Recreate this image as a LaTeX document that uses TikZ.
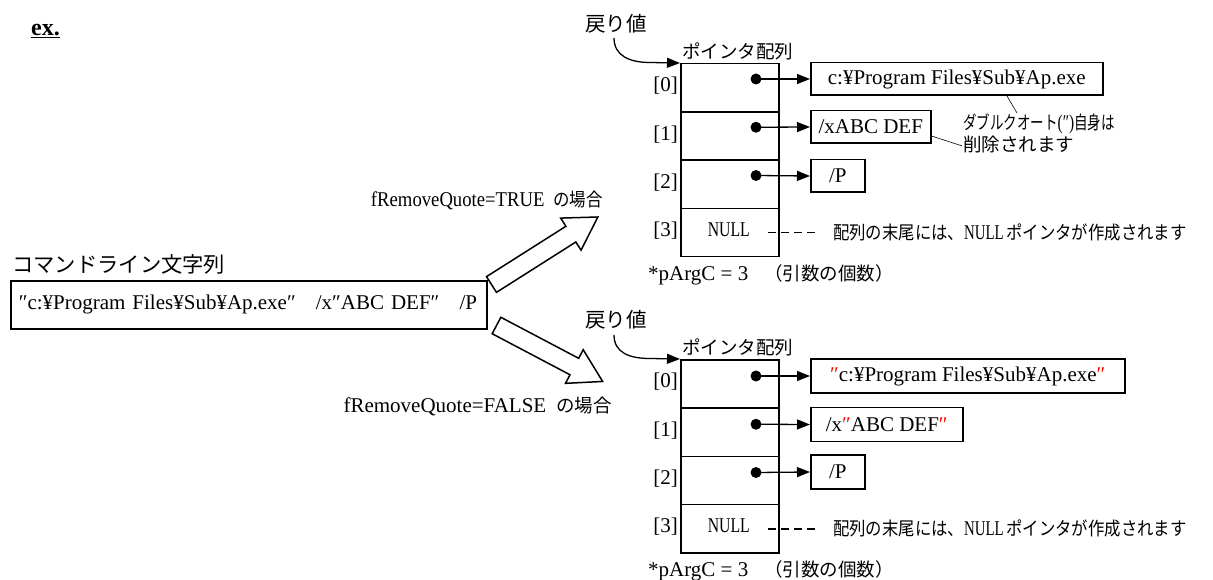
\documentclass[tikz,border=0pt]{standalone}
\usepackage{fontspec}
\setmainfont{Liberation Serif}
\newfontfamily\jp{Noto Sans CJK JP}
\usetikzlibrary{arrows.meta,calc}
\newcommand\J[1]{{\jp\fontsize{18.5}{22}\selectfont #1}}
\newcommand\JS[2]{{\jp\fontsize{#1}{22}\selectfont #2}}
\newcommand\HS[2]{\scalebox{#1}[1]{#2}}
\newcommand\RQ{\textcolor{red}{″}}
\begin{document}
\begin{tikzpicture}[x=1pt,y=-1pt,
  every node/.style={font=\fontsize{21}{24}\selectfont, inner sep=0pt, text=black},
  cell/.style={draw, line width=1.5pt, minimum width=98pt, minimum height=48.25pt, anchor=north west},
  sbox/.style={draw, line width=1.5pt, minimum height=32.5pt, anchor=west},
  ptr/.style={line width=1.3pt, -{Triangle[length=13pt,width=10pt]}},
  dot/.style={circle, fill=black, minimum size=11pt},
  fat/.style={draw, line width=1.5pt, fill=white, line join=miter},
  callout/.style={line width=0.6pt},
  nulldash/.style={line width=1.5pt, dash pattern=on 8pt off 5pt}]
\useasboundingbox[fill=white] (0,0) rectangle (1213,580);

% ex.
\node[anchor=west, font=\bfseries\fontsize{24}{26}\selectfont] (ex) at (31,31) {\underline{ex.}};

% command line
\node[anchor=west] (CL) at (12,264) {\JS{21.3}{コマンドライン文字列}};
\node[draw, line width=1.5pt, minimum height=48pt, anchor=north west, text width=460pt, inner xsep=8pt, align=left] (CMD) at (10,280)
  {″c:¥Program Files¥Sub¥Ap.exe″\hspace{20pt}/x″ABC DEF″\hspace{20pt}/P};

% fat arrows
\begin{scope}[shift={(491.5,284.5)}, rotate=32.4]
  \draw[fat] (0,-9.3) -- (94,-9.3) -- (94,-19) -- (126,0) -- (94,19) -- (94,9.3) -- (0,9.3) -- cycle;
\end{scope}
\begin{scope}[shift={(496.5,325.5)}, rotate=-27.8]
  \draw[fat] (0,-9.3) -- (88,-9.3) -- (88,-19) -- (120,0) -- (88,19) -- (88,9.3) -- (0,9.3) -- cycle;
\end{scope}
\node[anchor=east] (TT) at (603,200) {\HS{0.89}{fRemoveQuote=TRUE\hspace{10pt}\J{の場合}}};
\node[anchor=east] (TF) at (612,406) {fRemoveQuote=FALSE\hspace{10pt}\J{の場合}};

% arrays
\foreach \p/\y/\o in {A/63/16, B/359/17} {
  \foreach \i in {0,...,3} {
    \node[cell] (\p\i) at (680,{\y+48.25*\i}) {};
    \node[anchor=east] (\p L\i) at ($(\p\i.west)+(-2,-2)$) {[\i]};
  }
  \foreach \i in {0,1,2} {
    \node[dot] (\p D\i) at ($(\p\i.north west)+(76,\o)$) {};
  }
  \node (\p N) at ($(\p3.center)+(-1,-3)$) {\HS{0.75}{NULL}};
  \coordinate (\p S) at ($(\p3.north west)+(88,25)$);
  \coordinate (\p E) at ($(\p3.north west)+(137,25)$);
  \node[anchor=west] (\p Note) at ($(\p3.north west)+(153,25)$)
    {\HS{0.885}{\J{配列の末尾には、}\HS{0.8}{NULL}\hspace{3pt}\J{ポインタが作成されます}}};
  \draw[nulldash] (\p S) -- (\p E);
  \node[anchor=west] (\p C) at ($(\p3.south west)+(-32,17)$) {*pArgC = 3\hspace{16pt}\J{（引数の個数）}};
  \node[anchor=south west] (\p P) at ($(\p0.north west)+(2,-3)$) {\J{ポインタ配列}};
}
\node[anchor=west] (AR) at (585,24) {\JS{20.5}{戻り値}};
\node[anchor=west] (BR) at (585,320) {\JS{20.5}{戻り値}};
\draw[ptr] (614,38) .. controls (614,56) and (630,62.5) .. (650,62.5) -- (A0.north west);
\draw[ptr] (614,335) .. controls (614,353) and (630,358.5) .. (650,358.5) -- (B0.north west);

% target strings (TRUE)
\node[sbox, minimum width=292pt] (AT0) at (810,79) {c:¥Program Files¥Sub¥Ap.exe};
\node[sbox, minimum width=120pt] (AT1) at (810,127) {/xABC DEF};
\node[sbox, minimum width=54pt] (AT2) at (810,176) {/P};
% target strings (FALSE)
\node[sbox, minimum width=314pt, minimum height=34pt] (BT0) at (810,376) {\RQ c:¥Program Files¥Sub¥Ap.exe\RQ};
\node[sbox, minimum width=152pt, minimum height=34pt] (BT1) at (810,424.5) {/x\RQ ABC DEF\RQ};
\node[sbox, minimum width=54pt, minimum height=34pt] (BT2) at (810,472) {/P};
\foreach \p in {A,B} {
  \foreach \i in {0,1,2} { \draw[ptr] (\p D\i.center) -- (\p T\i.west); }
}

% callout
\node[anchor=north west, align=left, font=\fontsize{21}{22}\selectfont] (Q) at (963,113)
  {\HS{0.73}{\J{ダブルクオート}(″)\J{自身は}}\\\J{削除されます}};
\draw[callout] ($(AT0.south west)+(197,0)$) -- ($(Q.north west)+(54,0)$);
\draw[callout] ($(AT1.east)+(0,9)$) -- ($(Q.west)+(-1,13)$);
\end{tikzpicture}
\end{document}
